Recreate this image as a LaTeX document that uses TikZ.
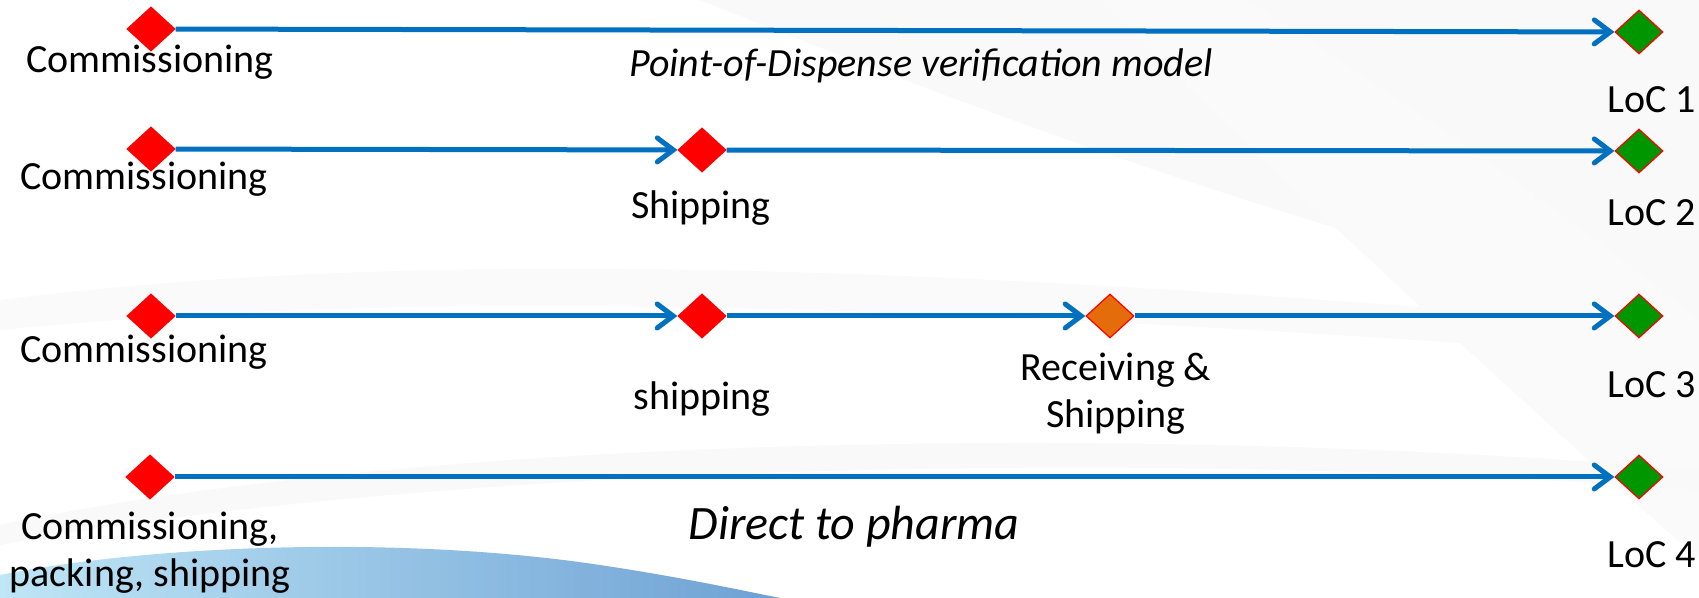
\documentclass[tikz,border=0pt]{standalone}
\usepackage{fontspec}
\setmainfont{Carlito}
\usetikzlibrary{shapes.geometric,arrows.meta}
\definecolor{flowblue}{RGB}{0,112,192}
\definecolor{startred}{RGB}{255,0,0}
\definecolor{locgreen}{RGB}{0,150,0}
\definecolor{midorange}{RGB}{228,108,10}
\definecolor{swooshlight}{RGB}{180,226,245}
\definecolor{swooshdark}{RGB}{85,145,205}
\begin{document}
\begin{tikzpicture}[x=0.5pt,y=-0.5pt,
  event/.style={diamond,inner sep=0pt,minimum width=24pt,minimum height=22pt,fill=startred,draw=startred,line width=0.6pt},
  endpt/.style={event,fill=locgreen},
  relay/.style={event,fill=midorange},
  flow/.style={draw=flowblue,line width=2.5pt,-{Straight Barb[length=8pt,width=12pt,line cap=round]}},
  lbl/.style={font=\fontsize{20}{23.5}\selectfont,align=center,inner sep=0pt},
  model/.style={font=\fontsize{20}{24}\selectfont\itshape,inner sep=0pt}
]
% background
\fill[white] (0,0) rectangle (1699,598);
\fill[gray!5] (700,0) .. controls (1000,120) and (1350,250) .. (1699,320) -- (1699,0) -- cycle;
\fill[gray!4] (1100,0) .. controls (1300,200) and (1500,380) .. (1699,560) -- (1699,320) .. controls (1550,200) and (1400,100) .. (1250,0) -- cycle;
\fill[gray!4] (0,300) .. controls (400,250) and (900,260) .. (1699,330) -- (1699,360) .. controls (900,300) and (400,290) .. (0,330) -- cycle;
\fill[gray!5] (0,525) .. controls (400,440) and (1100,420) .. (1699,470) -- (1699,490) .. controls (1100,445) and (400,470) .. (0,545) -- cycle;
\shade[left color=swooshlight,right color=swooshdark,opacity=0.85] (0,598) -- (0,575) .. controls (150,545) and (400,535) .. (600,565) .. controls (680,577) and (740,590) .. (780,598) -- cycle;

% row 1
\node[event] (c1) at (151,29) {};
\node[endpt] (l1) at (1639,32) {};
\draw[flow] (c1) -- (l1);
\node[lbl] (tc1) at (150,62) {Commissioning};
\node[model] (m1) at (921,66) {Point-of-Dispense verification model};
\node[lbl] (tl1) at (1652,100) {LoC 1};

% row 2
\node[event] (c2) at (151,149) {};
\node[event] (s2) at (702,150) {};
\node[endpt] (l2) at (1639,151) {};
\draw[flow] (c2) -- (s2);
\draw[flow] (s2) -- (l2);
\node[lbl] (tc2) at (144,179) {Commissioning};
\node[lbl] (ts2) at (701,208) {Shipping};
\node[lbl] (tl2) at (1652,213) {LoC 2};

% row 3
\node[event] (c3) at (151,316) {};
\node[event] (s3) at (702,316) {};
\node[relay] (r3) at (1110,316) {};
\node[endpt] (l3) at (1639,316) {};
\draw[flow] (c3) -- (s3);
\draw[flow] (s3) -- (r3);
\draw[flow] (r3) -- (l3);
\node[lbl] (tc3) at (144,352) {Commissioning};
\node[lbl] (ts3) at (702,399) {shipping};
\node[lbl] (tr3) at (1116,394) {Receiving \&\\Shipping};
\node[lbl] (tl3) at (1652,385) {LoC 3};

% row 4
\node[event] (c4) at (150,477) {};
\node[endpt] (l4) at (1639,477) {};
\draw[flow] (c4) -- (l4);
\node[lbl,anchor=base] (tc4) at (150,587) {Commissioning,\\packing, shipping};
\node[model,font=\fontsize{24}{28}\selectfont\itshape] (m4) at (854,527) {Direct to pharma};
\node[lbl] (tl4) at (1652,555) {LoC 4};
\end{tikzpicture}
\end{document}
